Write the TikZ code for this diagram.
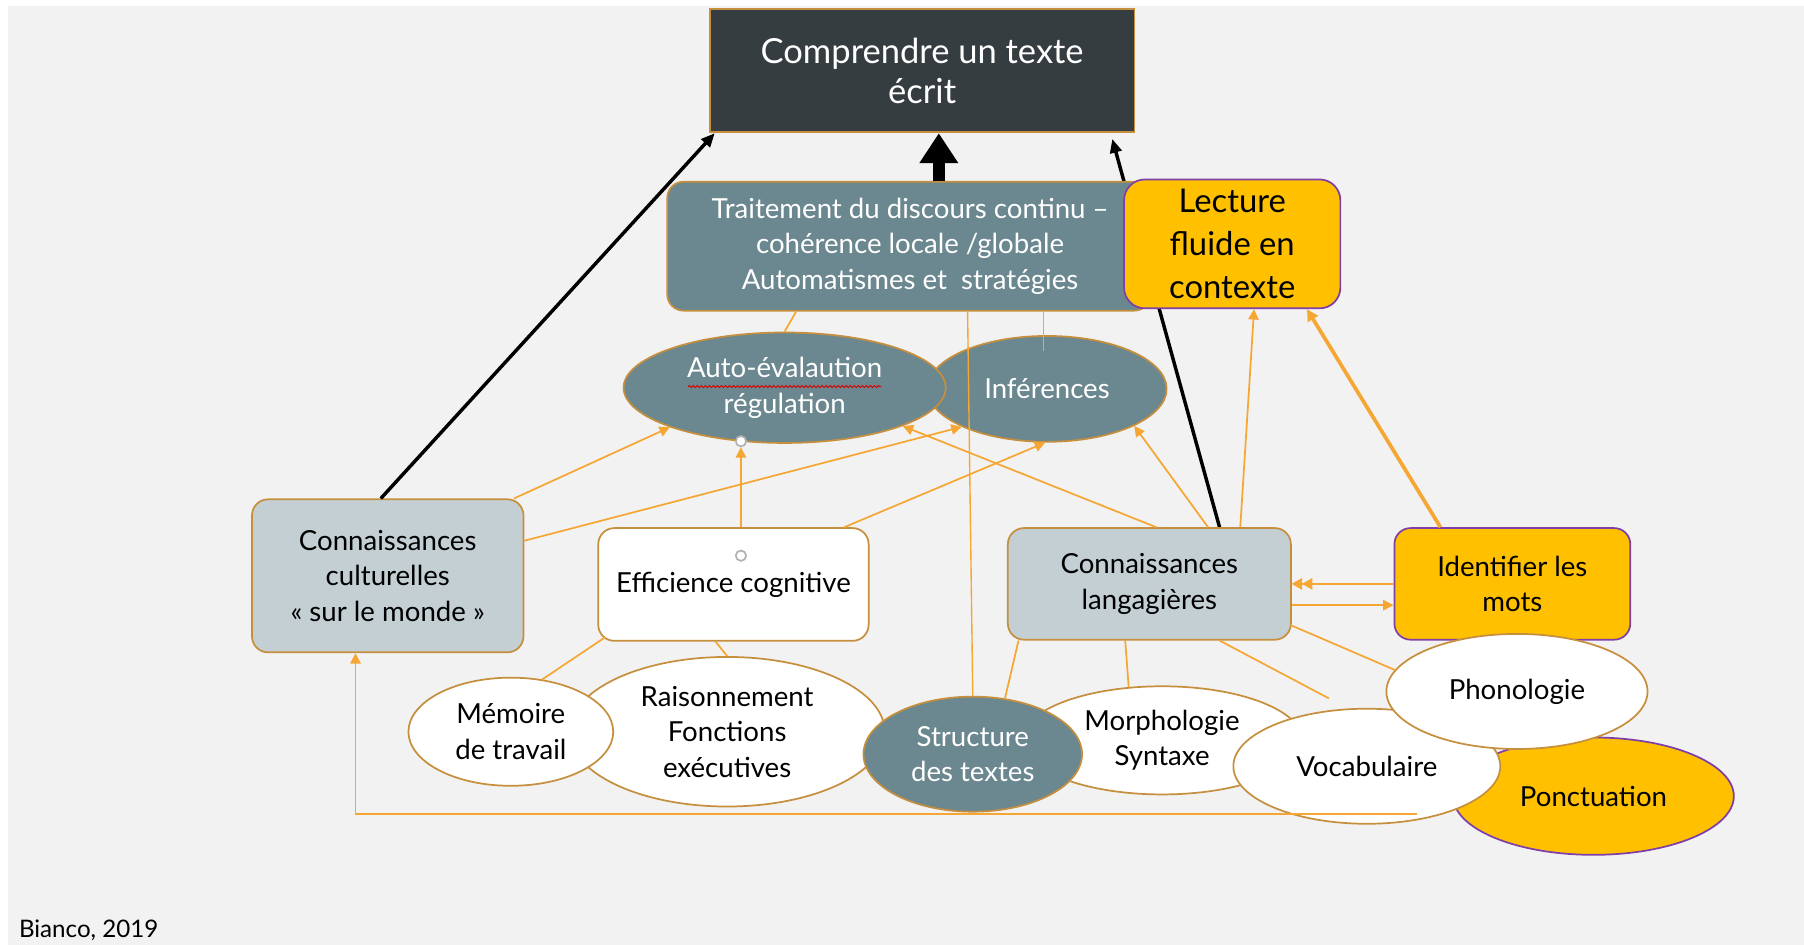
\documentclass[tikz,border=0pt]{standalone}
\usepackage{fontspec}
\setmainfont{Lato}
\usetikzlibrary{arrows.meta,shapes.geometric,decorations.pathmorphing,calc}
\pgfdeclarelayer{bgl}
\pgfdeclarelayer{behind}
\pgfsetlayers{bgl,behind,main}
\definecolor{bg}{HTML}{F2F2F2}
\definecolor{dark}{HTML}{363D40}
\definecolor{slate}{HTML}{6B878F}
\definecolor{lightb}{HTML}{C4CFD3}
\definecolor{gold}{HTML}{FFC000}
\definecolor{orl}{HTML}{F6A633}
\definecolor{brd}{HTML}{C68F3E}
\definecolor{purp}{HTML}{7F3FA8}
\tikzset{
  ln/.style={draw=orl, line width=1.5pt},
  arr/.style={ln, -{Triangle[width=9pt,length=9pt]}},
  blk/.style={draw=black, line width=3pt, -{Triangle[width=10pt,length=12pt]}},
  box/.style={rectangle, rounded corners=14pt, draw=brd, line width=1.5pt, inner sep=0pt, align=center},
  ell/.style={ellipse, draw=brd, line width=1.5pt, inner sep=0pt, align=center},
  fa/.style={font=\fontsize{24pt}{31pt}\selectfont},
  fb/.style={font=\fontsize{28.5pt}{37pt}\selectfont},
  handle/.style={circle, draw=gray!60, fill=white, line width=1.5pt, minimum size=9pt, inner sep=0pt},
}
\begin{document}
\begin{tikzpicture}[x=1pt,y=-1pt]
\useasboundingbox (0,0) rectangle (1568,821);
\begin{pgfonlayer}{bgl}
\fill[white] (0,0) rectangle (1568,821);
\fill[bg] (7,5) rectangle (1568,821);
\end{pgfonlayer}

% nodes
\node[rectangle, draw=brd, line width=1.5pt, fill=dark, minimum width=369pt, minimum height=107pt, inner sep=0pt, align=center, text=white, font=\fontsize{30pt}{35pt}\selectfont] (comp) at (801.5,61.5) {Comprendre un texte\\écrit};

\node[box, fill=slate, text=white, fa, minimum width=420pt, minimum height=112pt] (trait) at (790,214) {};
\node[box, draw=purp, fill=gold, fb, minimum width=188pt, minimum height=112pt, rounded corners=18pt] (lect) at (1071,212) {Lecture\\fluide en\\contexte};
\node[white, fa, align=center] (traittxt) at (791,214) {Traitement du discours continu –\\cohérence locale /globale\\Automatismes et\ \ stratégies};

\node[ell, fill=slate, text=white, fa, minimum width=208pt, minimum height=92pt] (inf) at (910,338) {Inférences};
\node[ell, fill=slate, text=white, fa, minimum width=280pt, minimum height=96pt] (auto) at (682,337) {Auto-évalaution\\régulation};
\draw[red!85!black, line width=0.8pt, decorate, decoration={snake,amplitude=0.9pt,segment length=3.5pt}] (598,336) -- (766,336);

\node[box, fill=lightb, fa, minimum width=236pt, minimum height=133pt] (cult) at (337,500.5) {Connaissances\\culturelles\\« sur le monde »};
\node[box, fill=white, fa, minimum width=235pt, minimum height=98pt] (eff) at (637.5,508) {Efficience cognitive};
\node[box, fill=lightb, fa, minimum width=246pt, minimum height=97pt] (lang) at (999,507.5) {Connaissances\\langagières};
\node[box, draw=purp, fill=gold, fa, minimum width=205pt, minimum height=97pt] (ident) at (1314.5,507.5) {Identifier les\\mots};

\node[ell, draw=purp, fill=gold, fa, minimum width=244pt, minimum height=102pt] (ponct) at (1385,692) {Ponctuation};
\node[ell, fill=white, fa, minimum width=274pt, minimum height=130pt] (rais) at (632,636) {Raisonnement\\Fonctions\\exécutives};
\node[ell, fill=white, fa, minimum width=178pt, minimum height=94pt] (mem) at (444,636) {Mémoire\\de travail};
\node[ell, fill=white, fa, minimum width=244pt, minimum height=94pt] (morph) at (1010,643.5) {Morphologie\\Syntaxe};
\node[ell, fill=slate, text=white, fa, minimum width=190pt, minimum height=100pt] (struct) at (845.5,655.5) {Structure\\des textes};
\node[ell, fill=white, fa, minimum width=232pt, minimum height=100pt] (voc) at (1188,666) {Vocabulaire};
\node[ell, fill=white, fa, minimum width=227pt, minimum height=100pt] (phon) at (1318.5,601) {Phonologie};

\node[handle] (h1) at (644,383.5) {};
\node[handle] (h2) at (644,483) {};

% black line behind boxes
\begin{pgfonlayer}{behind}
\draw[blk] ([xshift=61pt]lang.north) -- ([xshift=-20pt,yshift=-5pt]comp.south east);
\end{pgfonlayer}

% black connectors
\draw[blk] ([xshift=-6pt]cult.north) -- ([xshift=5pt]comp.south west);
\draw[line width=10.5pt, -{Triangle[width=32pt,length=26pt]}] ([xshift=26pt]trait.north) -- ([xshift=14.5pt]comp.south);

% orange arrows
\draw[arr] ([xshift=-9pt]cult.north east) -- (auto.199);
\draw[arr] ([yshift=30.5pt]cult.east) -- (inf.204);
\draw[arr] ([xshift=6.5pt]eff.north) -- (h1.south);
\draw[arr] ([xshift=-22pt]eff.north east) -- (inf.268);
\draw[arr] ([xshift=6pt]lang.north) -- (auto.342);
\draw[arr] ([xshift=51pt]lang.north) -- (inf.337);
\draw[arr] ([xshift=79pt]lang.north) -- ([xshift=19pt]lect.south);
\draw[ln, line width=3.2pt, -{Triangle[width=10pt,length=10pt]}] ([xshift=-62.5pt]ident.north) -- ([xshift=65pt]lect.south);
\draw[ln, -{Triangle[width=10pt,length=9pt] Triangle[width=10pt,length=9pt]}] (ident.west) -- (lang.east);
\draw[arr] ([yshift=-18.5pt]lang.east) -- ([yshift=-18.5pt]ident.west);

% orange plain lines
\draw[ln] ([xshift=-98pt]trait.south) -- (auto.north);
\draw[ln] ([xshift=117pt]trait.south) -- ([xshift=-3pt,yshift=33pt]inf.center);
\draw[ln, line width=1.2pt] ([xshift=51pt]trait.south) -- (struct.north);
\draw[ln] ([xshift=7pt,yshift=4pt]eff.south west) -- (mem.59);
\draw[ln] ([xshift=-15.5pt]eff.south) -- (rais.north);
\draw[ln] ([xshift=10pt]lang.south west) -- (struct.60);
\draw[ln] ([xshift=-21pt]lang.south) -- (morph.122);
\draw[ln] ([xshift=61pt]lang.south) -- ([xshift=-33pt,yshift=59pt]voc.center);
\draw[ln] ([yshift=13pt]lang.south east) -- (phon.170);

% bottom return line
\coordinate (bstart) at (1232,707.5);
\draw[arr] (bstart) -- (309,707.5) -- ([xshift=-28pt]cult.south);

\node[anchor=base west, font=\fontsize{21pt}{24pt}\selectfont] (src) at (13,815) {Bianco, 2019};
\end{tikzpicture}
\end{document}
